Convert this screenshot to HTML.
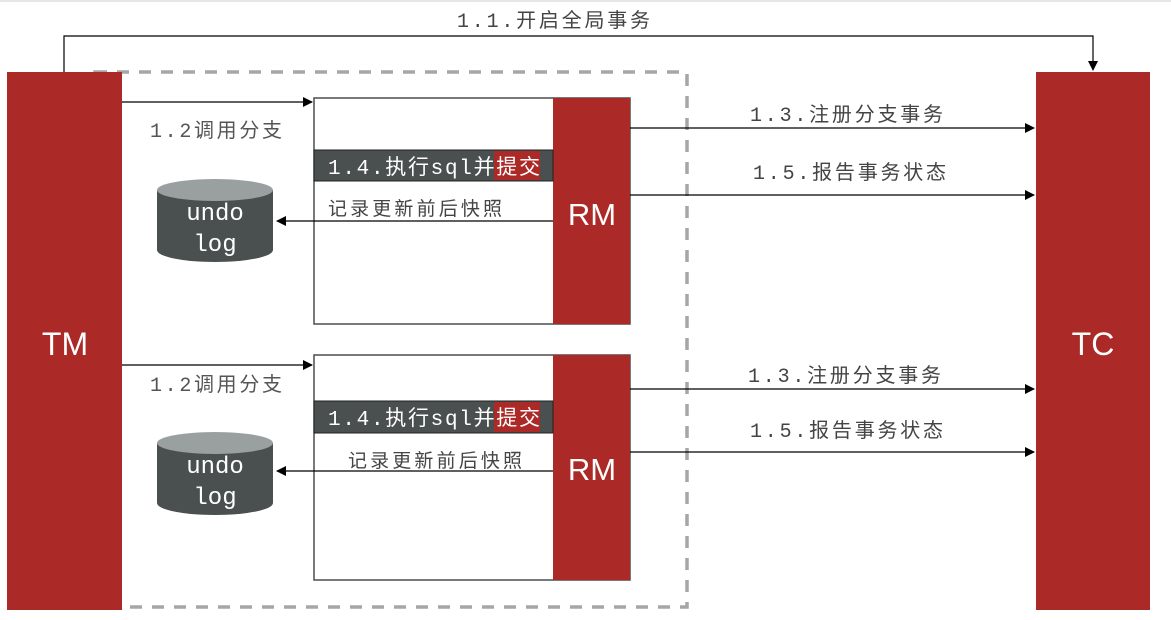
<!DOCTYPE html>
<html><head><meta charset="utf-8"><style>
html,body{margin:0;padding:0;background:#fff;}
svg{display:block;}
.m{font-family:"Liberation Mono","Noto Sans CJK SC",monospace;}
.s{font-family:"Liberation Sans","Noto Sans CJK SC",sans-serif;}
</style></head><body>
<svg width="1171" height="620" viewBox="0 0 1171 620" xmlns="http://www.w3.org/2000/svg">
<defs><marker id="a" markerWidth="10" markerHeight="10" refX="9" refY="5" orient="auto" markerUnits="userSpaceOnUse"><path d="M0,0 L10,5 L0,10 z" fill="#000"/></marker></defs>
<rect x="0" y="0" width="1171" height="2" fill="#e6e6e6"/>
<rect x="95" y="72" width="592" height="535" fill="none" stroke="#a6a6a6" stroke-width="3.5" stroke-dasharray="12,10"/>
<polyline points="64,72 64,36 1093,36 1093,70" fill="none" stroke="#000" stroke-width="1.2" marker-end="url(#a)"/>
<text x="457" y="27" class="m" font-size="20" fill="#444" textLength="193" lengthAdjust="spacing">1.1.开启全局事务</text>
<rect x="7" y="72" width="115" height="538" fill="#ab2926"/>
<text x="65" y="355" class="s" font-size="32" fill="#fff" text-anchor="middle">TM</text>
<rect x="1036" y="72" width="114" height="538" fill="#ab2926"/>
<text x="1093" y="355" class="s" font-size="32" fill="#fff" text-anchor="middle">TC</text>
<g>
<line x1="122" y1="102" x2="312" y2="102" stroke="#000" stroke-width="1.2" marker-end="url(#a)"/>
<text x="150" y="137" class="m" font-size="20" fill="#555" textLength="132" lengthAdjust="spacing">1.2调用分支</text>
<rect x="314" y="98" width="316" height="226" fill="#fff" stroke="#4a4f4f" stroke-width="1.5"/>
<rect x="553" y="98" width="77" height="226" fill="#ab2926"/>
<text x="592" y="225" class="s" font-size="31" fill="#fff" text-anchor="middle">RM</text>
<rect x="314" y="150" width="239" height="31" fill="#4a5050" stroke="#222" stroke-width="1"/>
<rect x="494" y="151" width="46" height="29" fill="#ab2926"/>
<text x="328" y="174" class="m" font-size="21" fill="#fff" textLength="212" lengthAdjust="spacing">1.4.执行sql并提交</text>
<path d="M157,190 v60 a58,12 0 0 0 116,0 v-60" fill="#4a5050"/>
<ellipse cx="215" cy="190" rx="58" ry="11" fill="#9aa0a0"/>
<text x="215" y="220" class="m" font-size="24" fill="#fff" text-anchor="middle">undo</text>
<text x="215" y="251" class="m" font-size="24" fill="#fff" text-anchor="middle">log</text>
<line x1="553" y1="221" x2="277" y2="221" stroke="#000" stroke-width="1.2" marker-end="url(#a)"/>
<text x="328" y="215" class="s" font-size="19" fill="#444" textLength="174" lengthAdjust="spacing">记录更新前后快照</text>
<line x1="630" y1="128" x2="1034" y2="128" stroke="#000" stroke-width="1.2" marker-end="url(#a)"/>
<text x="750" y="121" class="m" font-size="20" fill="#444" textLength="193" lengthAdjust="spacing">1.3.注册分支事务</text>
<line x1="630" y1="195" x2="1034" y2="195" stroke="#000" stroke-width="1.2" marker-end="url(#a)"/>
<text x="753" y="179" class="m" font-size="20" fill="#444" textLength="193" lengthAdjust="spacing">1.5.报告事务状态</text>
</g>
<g>
<line x1="122" y1="365" x2="312" y2="365" stroke="#000" stroke-width="1.2" marker-end="url(#a)"/>
<text x="150" y="391" class="m" font-size="20" fill="#555" textLength="132" lengthAdjust="spacing">1.2调用分支</text>
<rect x="314" y="355" width="316" height="225" fill="#fff" stroke="#4a4f4f" stroke-width="1.5"/>
<rect x="553" y="355" width="77" height="225" fill="#ab2926"/>
<text x="592" y="480" class="s" font-size="31" fill="#fff" text-anchor="middle">RM</text>
<rect x="314" y="401" width="239" height="32" fill="#4a5050" stroke="#222" stroke-width="1"/>
<rect x="494" y="402" width="46" height="30" fill="#ab2926"/>
<text x="328" y="425" class="m" font-size="21" fill="#fff" textLength="212" lengthAdjust="spacing">1.4.执行sql并提交</text>
<path d="M157,443 v60 a58,12 0 0 0 116,0 v-60" fill="#4a5050"/>
<ellipse cx="215" cy="443" rx="58" ry="11" fill="#9aa0a0"/>
<text x="215" y="473" class="m" font-size="24" fill="#fff" text-anchor="middle">undo</text>
<text x="215" y="504" class="m" font-size="24" fill="#fff" text-anchor="middle">log</text>
<line x1="553" y1="471" x2="277" y2="471" stroke="#000" stroke-width="1.2" marker-end="url(#a)"/>
<text x="348" y="467" class="s" font-size="19" fill="#444" textLength="174" lengthAdjust="spacing">记录更新前后快照</text>
<line x1="630" y1="389" x2="1034" y2="389" stroke="#000" stroke-width="1.2" marker-end="url(#a)"/>
<text x="748" y="382" class="m" font-size="20" fill="#444" textLength="193" lengthAdjust="spacing">1.3.注册分支事务</text>
<line x1="630" y1="452" x2="1034" y2="452" stroke="#000" stroke-width="1.2" marker-end="url(#a)"/>
<text x="750" y="437" class="m" font-size="20" fill="#444" textLength="193" lengthAdjust="spacing">1.5.报告事务状态</text>
</g>
</svg>
</body></html>
